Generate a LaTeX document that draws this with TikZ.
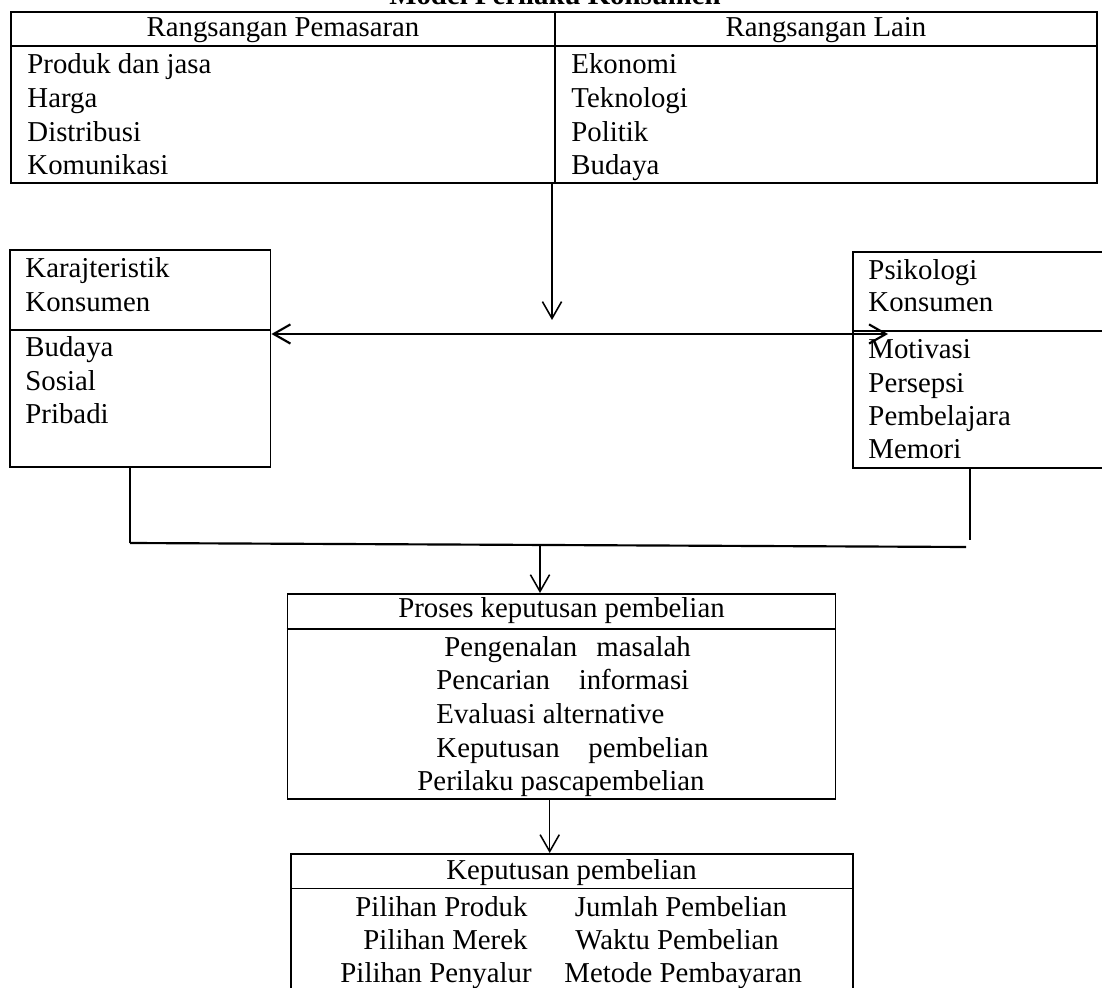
\documentclass[tikz,border=0pt]{standalone}
\usepackage{fontspec}
\setmainfont{Liberation Serif}
\usetikzlibrary{arrows.meta}
\usetikzlibrary{fit}

\tikzset{
  box/.style={draw, line width=0.8pt, inner sep=0pt},
  lbl/.style={inner sep=0pt, anchor=base west},
  head/.style={inner sep=0pt, anchor=base},
  link/.style={line width=0.65pt},
  barb/.tip={Straight Barb[length=7pt, width=8pt]}
}

\begin{document}
\begin{tikzpicture}[x=0.4167pt, y=-0.4167pt, font=\fontsize{12pt}{14pt}\selectfont]

  \useasboundingbox (0,0) rectangle (1102,988);

  % Define nodes
  \node[head, font=\fontsize{12pt}{14pt}\selectfont\bfseries] (title) at (555,5) {Model Perilaku Konsumen};

  \node[box, fit={(11,12) (1097,183)}] (stim) {};
  \node[head] (pemasaran) at (283,37) {Rangsangan Pemasaran};
  \node[head] (lain) at (826,37) {Rangsangan Lain};
  \node[lbl] (produk) at (27,74) {Produk dan jasa};
  \node[lbl] (harga) at (27,108) {Harga};
  \node[lbl] (distribusi) at (27,142) {Distribusi};
  \node[lbl] (komunikasi) at (27,175) {Komunikasi};
  \node[lbl] (ekonomi) at (571,74) {Ekonomi};
  \node[lbl] (teknologi) at (571,108) {Teknologi};
  \node[lbl] (politik) at (571,142) {Politik};
  \node[lbl] (budaya) at (571,175) {Budaya};

  \node[box, fit={(10,250) (270.5,467)}] (karak) {};
  \node[lbl] (karak1) at (25,278) {Karajteristik};
  \node[lbl] (karak2) at (25,312) {Konsumen};
  \node[lbl] (kbudaya) at (25,357) {Budaya};
  \node[lbl] (ksosial) at (25,391) {Sosial};
  \node[lbl] (kpribadi) at (25,424) {Pribadi};

  \node[box, fit={(852.7,252) (1110,468)}] (psiko) {};
  \node[lbl] (psiko1) at (868,280) {Psikologi};
  \node[lbl] (psiko2) at (868,312) {Konsumen};
  \node[lbl] (motivasi) at (868,359) {Motivasi};
  \node[lbl] (persepsi) at (868,393) {Persepsi};
  \node[lbl] (belajar) at (868,426) {Pembelajara};
  \node[lbl] (memori) at (868,459) {Memori};

  \node[box, fit={(287.5,594) (835.5,799)}] (proses) {};
  \node[head] (proseshead) at (561.5,618) {Proses keputusan pembelian};
  \node[lbl] (masalah) at (444,657) {Pengenalan\hspace{5pt} masalah};
  \node[lbl] (informasi) at (436,690) {Pencarian\hspace{9pt} informasi};
  \node[lbl] (evaluasi) at (436,723) {Evaluasi alternative};
  \node[lbl] (putus) at (436,757) {Keputusan\hspace{9pt} pembelian};
  \node[lbl] (pasca) at (417,790) {Perilaku pascapembelian};

  \node[box, fit={(291,854) (852.7,1000)}] (kep) {};
  \node[head] (kephead) at (571.5,879) {Keputusan pembelian};
  \node[lbl] (pproduk) at (355,916) {Pilihan Produk};
  \node[lbl] (pmerek) at (363,949) {Pilihan Merek};
  \node[lbl] (psalur) at (340,982) {Pilihan Penyalur};
  \node[lbl] (jumlah) at (574.5,916) {Jumlah Pembelian};
  \node[lbl] (waktu) at (575,949) {Waktu Pembelian};
  \node[lbl] (metode) at (564,982) {Metode Pembayaran};

  \coordinate (drop) at (552,320);
  \coordinate (psiin) at (888,334);
  \coordinate (jl) at (130,543);
  \coordinate (jr) at (966,547);
  \coordinate (jrv) at (970,540);
  \coordinate (jm) at (540,545);

  % Dividers
  \draw[line width=0.8pt] (stim.west |- 0,46) -- (stim.east |- 0,46) ; %
  \draw[line width=0.8pt] (555,0 |- stim.north) -- (555,0 |- stim.south) ; %
  \draw[line width=0.8pt] (karak.west |- 0,330) -- (karak.east |- 0,330) ; %
  \draw[line width=0.8pt] (psiko.west |- 0,330.7) -- (psiko.east |- 0,330.7) ; %
  \draw[line width=0.8pt] (proses.west |- 0,629) -- (proses.east |- 0,629) ; %
  \draw[line width=0.8pt] (kep.west |- 0,888.5) -- (kep.east |- 0,888.5) ; %

  % Connect the nodes
  \draw[link, -barb] (552,0 |- stim.south) -- (drop) ; %
  \draw[line width=0.9pt, barb-barb] (karak.east |- psiin) -- (psiin) ; %
  \draw[link] (jl |- karak.south) -- (jl) ; %
  \draw[link] (jrv |- psiko.south) -- (jrv) ; %
  \draw[line width=0.9pt] (jl) -- (jr) ; %
  \draw[link, -barb] (jm) -- (jm |- proses.north) ; %
  \draw[link, -barb] (549.7,0 |- proses.south) -- (549.7,0 |- kep.north) ; %

\end{tikzpicture}
\end{document}
